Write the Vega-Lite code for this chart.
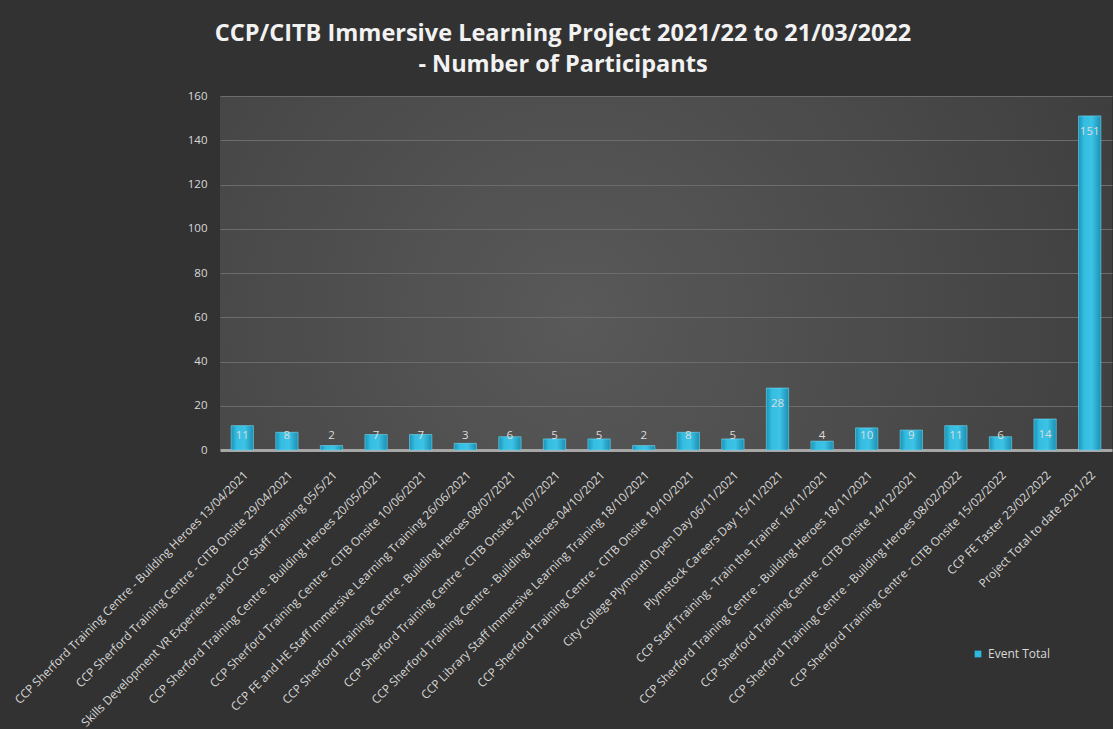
{
  "$schema": "https://vega.github.io/schema/vega-lite/v6.json",
  "autosize": {"type": "none"},
  "width": 892,
  "height": 354,
  "padding": {"left": 220, "top": 96, "right": 1, "bottom": 279},
  "background": "#323232",
  "config": {
    "view": {
      "stroke": null,
      "fill": {
        "gradient": "radial",
        "x1": 0.4, "y1": 0.55, "r1": 0,
        "x2": 0.4, "y2": 0.55, "r2": 0.75,
        "stops": [
          {"offset": 0, "color": "#595959"},
          {"offset": 0.6, "color": "#474747"},
          {"offset": 1, "color": "#3a3a3a"}
        ]
      }
    },
    "font": "Open Sans"
  },
  "title": {
    "text": ["CCP/CITB Immersive Learning Project 2021/22 to 21/03/2022", " -  Number of Participants"],
    "color": "#f2f2f2",
    "font": "Open Sans",
    "fontWeight": "bold",
    "fontSize": 23.5,
    "lineHeight": 31,
    "anchor": "middle",
    "dx": -103,
    "offset": 14
  },
  "data": {
    "values": [
      {"event": "CCP Sherford Training Centre - Building Heroes 13/04/2021", "participants": 11, "series": "Event Total"},
      {"event": "CCP Sherford Training Centre - CITB Onsite 29/04/2021", "participants": 8, "series": "Event Total"},
      {"event": "Skills Development VR Experience and CCP Staff Training 05/5/21", "participants": 2, "series": "Event Total"},
      {"event": "CCP Sherford Training Centre - Building Heroes 20/05/2021", "participants": 7, "series": "Event Total"},
      {"event": "CCP Sherford Training Centre - CITB Onsite 10/06/2021", "participants": 7, "series": "Event Total"},
      {"event": "CCP FE and HE Staff Immersive Learning Training 26/06/2021", "participants": 3, "series": "Event Total"},
      {"event": "CCP Sherford Training Centre - Building Heroes 08/07/2021", "participants": 6, "series": "Event Total"},
      {"event": "CCP Sherford Training Centre - CITB Onsite 21/07/2021", "participants": 5, "series": "Event Total"},
      {"event": "CCP Sherford Training Centre - Building Heroes 04/10/2021", "participants": 5, "series": "Event Total"},
      {"event": "CCP Library Staff Immersive Learning Training 18/10/2021", "participants": 2, "series": "Event Total"},
      {"event": "CCP Sherford Training Centre - CITB Onsite 19/10/2021", "participants": 8, "series": "Event Total"},
      {"event": "City College Plymouth Open Day 06/11/2021", "participants": 5, "series": "Event Total"},
      {"event": "Plymstock Careers Day 15/11/2021", "participants": 28, "series": "Event Total"},
      {"event": "CCP Staff Training - Train the Trainer 16/11/2021", "participants": 4, "series": "Event Total"},
      {"event": "CCP Sherford Training Centre - Building Heroes 18/11/2021", "participants": 10, "series": "Event Total"},
      {"event": "CCP Sherford Training Centre - CITB Onsite 14/12/2021", "participants": 9, "series": "Event Total"},
      {"event": "CCP Sherford Training Centre - Building Heroes 08/02/2022", "participants": 11, "series": "Event Total"},
      {"event": "CCP Sherford Training Centre - CITB Onsite 15/02/2022", "participants": 6, "series": "Event Total"},
      {"event": "CCP FE Taster 23/02/2022", "participants": 14, "series": "Event Total"},
      {"event": "Project Total to date 2021/22", "participants": 151, "series": "Event Total"}
    ]
  },
  "encoding": {
    "x": {
      "field": "event",
      "type": "nominal",
      "sort": null,
      "title": null,
      "scale": {"paddingInner": 0.5, "paddingOuter": 0.25},
      "axis": {
        "labelAngle": -45,
        "labelLimit": 0,
        "labelColor": "#d9d9d9",
        "labelFontSize": 11.8,
        "labelFont": "Open Sans",
        "labelPadding": 19,
        "ticks": false,
        "domainColor": "#a6a6a6",
        "domainWidth": 3,
        "grid": false
      }
    }
  },
  "layer": [
    {
      "mark": {
        "type": "bar",
        "fill": {
          "gradient": "linear",
          "x1": 0, "y1": 0, "x2": 1, "y2": 0,
          "stops": [
            {"offset": 0, "color": "#1a93b8"},
            {"offset": 0.25, "color": "#35bde2"},
            {"offset": 0.6, "color": "#3cc3e6"},
            {"offset": 1, "color": "#1c8fb2"}
          ]
        },
        "stroke": "#6fdcf4",
        "strokeWidth": 0.6
      },
      "encoding": {
        "y": {
          "field": "participants",
          "type": "quantitative",
          "title": null,
          "scale": {"domain": [0, 160]},
          "axis": {
            "values": [0, 20, 40, 60, 80, 100, 120, 140, 160],
            "labelColor": "#d9d9d9",
            "labelFontSize": 11.5,
            "labelFont": "Open Sans",
            "labelPadding": 13,
            "ticks": false,
            "domain": false,
            "gridColor": "#6c6c6c",
            "gridWidth": 1
          }
        }
      }
    },
    {
      "mark": {"type": "square", "opacity": 0, "size": 1},
      "encoding": {
        "y": {"field": "participants", "type": "quantitative"},
        "color": {
          "field": "series",
          "type": "nominal",
          "scale": {"range": ["#2fb9e0"]},
          "legend": {
            "title": null,
            "orient": "none",
            "legendX": 752,
            "legendY": 552,
            "symbolType": "square",
            "symbolSize": 45,
            "symbolOpacity": 1,
            "symbolStrokeWidth": 0,
            "labelColor": "#d9d9d9",
            "labelFontSize": 12,
            "labelFont": "Open Sans"
          }
        }
      }
    },
    {
      "transform": [{"calculate": "max(datum.participants, 13.5)", "as": "labelPos"}],
      "mark": {"type": "text", "color": "#dcdcdc", "fontSize": 11.5, "font": "Open Sans", "dy": 16, "baseline": "middle"},
      "encoding": {
        "y": {"field": "labelPos", "type": "quantitative"},
        "text": {"field": "participants", "type": "quantitative"}
      }
    }
  ]
}
